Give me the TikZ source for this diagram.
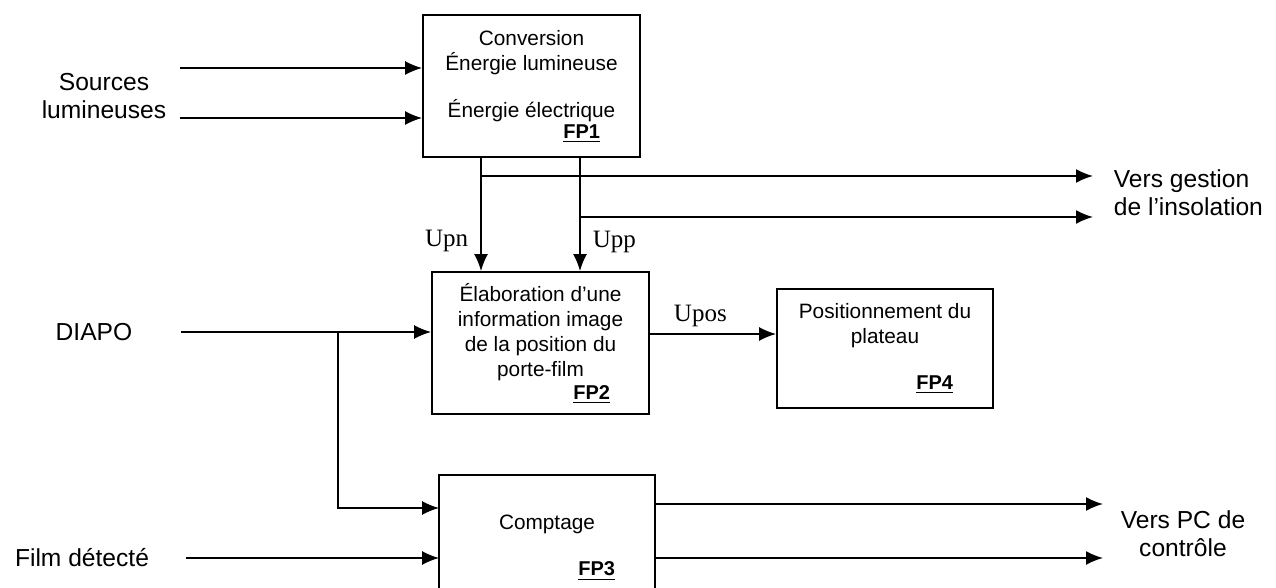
\documentclass[tikz,border=0pt]{standalone}
\usepackage{fontspec}
\setmainfont{Liberation Sans}
\newfontfamily\sigfont{Liberation Serif}
\usetikzlibrary{arrows.meta,positioning}
\tikzstyle{bloc} = [rectangle, draw, line width=0.9pt, inner sep=0pt,
    minimum width=108.5pt]
\tikzstyle{bloctxt} = [align=center, inner sep=0pt, font=\fontsize{10.4}{12.5}\selectfont]
\tikzstyle{fp} = [inner sep=0pt, font=\fontsize{10}{12}\selectfont\bfseries]
\tikzstyle{lbl} = [align=center, inner sep=0pt, font=\fontsize{12.3}{14}\selectfont]
\tikzstyle{sig} = [inner sep=1pt, font=\sigfont\fontsize{12.5}{14}\selectfont]

\begin{document}
\begin{tikzpicture}[->,>={Latex[length=8.5pt,width=7pt]},line width=0.9pt,
                    x=0.5pt,y=-0.5pt]
  \useasboundingbox (0,0) rectangle (1276,588);

  % blocs
  \node[bloc, minimum height=71pt]   (fp1) at (531.5,86)  {};
  \node[bloc, minimum height=71pt]   (fp2) at (540.5,343) {};
  \node[bloc, minimum width=108pt, minimum height=59.5pt] (fp4) at (885,348.5) {};
  \node[rectangle, inner sep=0pt, minimum width=107pt, minimum height=56pt] (fp3) at (547,532) {};
  \draw[-] (fp3.south west) |- (fp3.north east) -- (fp3.south east);

  \node[bloctxt, below=7.5pt of fp1.north] (fp1t) {Conversion\\Énergie lumineuse\\[11pt]Énergie électrique};
  \node[fp, above left=7pt and 20pt of fp1.south east] (fp1n) {\underline{FP1}};
  \node[bloctxt, below=5.5pt of fp2.north] (fp2t) {Élaboration d’une\\information image\\de la position du\\porte-film};
  \node[fp, above left=5pt and 19.5pt of fp2.south east] (fp2n) {\underline{FP2}};
  \node[bloctxt, below=7pt of fp4.north] (fp4t) {Positionnement du\\plateau};
  \node[fp, above left=7pt and 20pt of fp4.south east] (fp4n) {\underline{FP4}};
  \node[bloctxt, below=19.5pt of fp3.north] (fp3t) {Comptage};
  \node[fp, below left=43pt and 19.5pt of fp3.north east] (fp3n) {\underline{FP3}};

  % entrees et sorties
  \node[lbl] (sources) at (104,96)  {Sources\\lumineuses};
  \node[lbl] (diapo)   at (94,332)  {DIAPO};
  \node[lbl] (film)    at (82,558)  {Film détecté};
  \node[lbl, align=left, anchor=west] (gestion) at (1113,193) {Vers gestion\\de l'insolation};
  \node[lbl] (pc) at (1183,534) {Vers PC de\\contrôle};

  \coordinate (src1) at (180,68);
  \coordinate (src2) at (180,118);
  \coordinate (tapn) at (481,176);
  \coordinate (tapp) at (580,217);
  \coordinate (vg)   at (1093,176);
  \coordinate (vi)   at (1093,217);
  \coordinate (br)   at (338,332);
  \coordinate (pc1)  at (1103,504);
  \coordinate (pc2)  at (1103,558);

  \draw (src1) -- (src1 -| fp1.west);
  \draw (src2) -- (src2 -| fp1.west);
  \draw[-] (fp1.south -| tapn) -- (tapn);
  \draw (tapn) -- (fp2.north -| tapn) node[sig, pos=0.68, left=5pt] {Upn};
  \draw (fp1.south -| tapp) -- (fp2.north -| tapp) node[sig, pos=0.74, right=5pt] {Upp};
  \draw (tapn) -- (vg);
  \draw (tapp) -- (vi);
  \draw ([xshift=24pt]diapo.east) -- (diapo.east -| fp2.west);
  \draw (br) |- ([yshift=12pt]fp3.west);
  \draw ([xshift=18pt]film.east) -- (film.east -| fp3.west);
  \draw ([yshift=4.5pt]fp2.east) -- ([yshift=4.5pt]fp2.east -| fp4.west)
    node[sig, pos=0.4, above=2pt] {Upos};
  \draw (pc1 -| fp3.east) -- (pc1);
  \draw (pc2 -| fp3.east) -- (pc2);
\end{tikzpicture}
\end{document}
